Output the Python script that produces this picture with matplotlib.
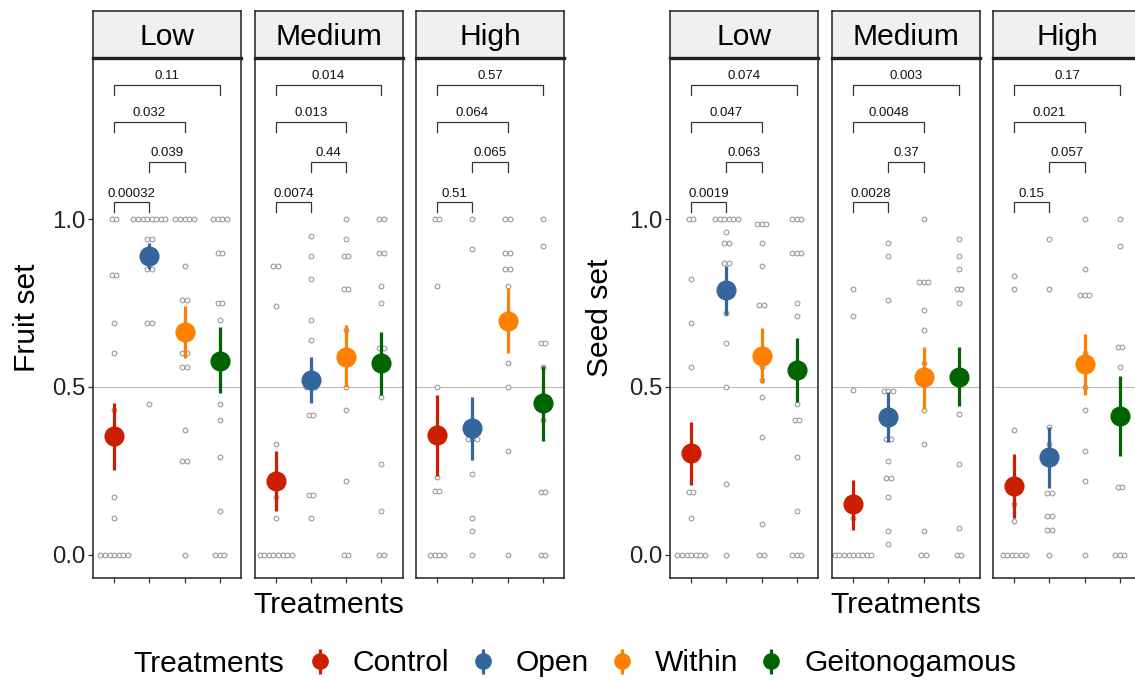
import numpy as np
import matplotlib
matplotlib.use('Agg')
import matplotlib.pyplot as plt
from matplotlib.lines import Line2D

plt.rcParams['font.family'] = ['Liberation Sans', 'DejaVu Sans']

W, H = 1135, 681

levels = ['Low', 'Medium', 'High']
treatments = ['Control', 'Open', 'Within', 'Geitonogamous']
trt_colors = ['#CC1E00', '#34659B', '#FF8000', '#006400']

# raw observations: [Control, Open, Within, Geitonogamous]
fruit_raw_low = [
    [1, 1, 0.833, 0.833, 0.69, 0.60, 0.43, 0.17, 0.11, 0, 0, 0, 0, 0, 0, 0],
    [1, 1, 1, 1, 1, 1, 1, 1, 0.94, 0.94, 0.85, 0.85, 0.69, 0.69, 0.45],
    [1, 1, 1, 1, 1, 0.86, 0.76, 0.76, 0.60, 0.60, 0.56, 0.56, 0.37, 0.28, 0.28, 0],
    [1, 1, 1, 1, 0.90, 0.90, 0.75, 0.75, 0.70, 0.45, 0.40, 0.29, 0.13, 0, 0, 0]]
fruit_raw_med = [
    [0.86, 0.86, 0.74, 0.33, 0.17, 0.11, 0, 0, 0, 0, 0, 0, 0, 0],
    [0.95, 0.89, 0.82, 0.70, 0.64, 0.5, 0.5, 0.5, 0.415, 0.415, 0.176, 0.176, 0.11],
    [1, 0.94, 0.89, 0.89, 0.79, 0.79, 0.67, 0.5, 0.43, 0.22, 0, 0],
    [1, 1, 0.90, 0.90, 0.80, 0.75, 0.615, 0.615, 0.47, 0.27, 0.13, 0, 0]]
fruit_raw_high = [
    [1, 1, 0.80, 0.5, 0.23, 0.19, 0.19, 0, 0, 0, 0],
    [1, 0.91, 0.344, 0.344, 0.344, 0.24, 0.11, 0.07, 0],
    [1, 1, 0.90, 0.90, 0.85, 0.85, 0.80, 0.57, 0.5, 0.31, 0],
    [1, 0.92, 0.63, 0.63, 0.56, 0.40, 0.186, 0.186, 0, 0]]

seed_raw_low = [
    [1, 1, 0.82, 0.69, 0.56, 0.186, 0.186, 0.11, 0, 0, 0, 0, 0, 0, 0],
    [1, 1, 1, 1, 1, 1, 0.96, 0.93, 0.93, 0.87, 0.87, 0.72, 0.63, 0.5, 0.21, 0],
    [0.985, 0.985, 0.985, 0.93, 0.86, 0.745, 0.745, 0.56, 0.52, 0.47, 0.35, 0.09, 0, 0],
    [1, 1, 1, 0.90, 0.90, 0.90, 0.75, 0.71, 0.45, 0.40, 0.40, 0.29, 0.13, 0, 0, 0]]
seed_raw_med = [
    [0.79, 0.71, 0.49, 0.11, 0, 0, 0, 0, 0, 0, 0, 0, 0],
    [0.93, 0.89, 0.76, 0.486, 0.486, 0.486, 0.344, 0.344, 0.28, 0.229, 0.229, 0.17, 0.07, 0.03],
    [1, 0.813, 0.813, 0.813, 0.73, 0.67, 0.57, 0.43, 0.33, 0.07, 0, 0],
    [0.94, 0.89, 0.85, 0.79, 0.79, 0.75, 0.42, 0.27, 0.08, 0, 0]]
seed_raw_high = [
    [0.83, 0.79, 0.37, 0.15, 0.10, 0, 0, 0, 0, 0, 0],
    [0.94, 0.79, 0.38, 0.33, 0.184, 0.184, 0.114, 0.114, 0.074, 0.074, 0],
    [1, 0.85, 0.774, 0.774, 0.774, 0.60, 0.5, 0.43, 0.31, 0.22, 0],
    [1, 0.92, 0.62, 0.62, 0.56, 0.2, 0.2, 0, 0, 0]]

# estimated means and 95% intervals, rows = Low, Medium, High
fruit_mean = [[0.354, 0.890, 0.664, 0.578], [0.220, 0.521, 0.590, 0.572], [0.355, 0.377, 0.696, 0.451]]
fruit_lo = [[0.253, 0.850, 0.585, 0.481], [0.129, 0.452, 0.500, 0.476], [0.233, 0.283, 0.602, 0.339]]
fruit_hi = [[0.453, 0.930, 0.740, 0.677], [0.310, 0.588, 0.684, 0.664], [0.475, 0.471, 0.793, 0.563]]

seed_mean = [[0.303, 0.789, 0.592, 0.551], [0.151, 0.410, 0.528, 0.530], [0.205, 0.290, 0.567, 0.412]]
seed_lo = [[0.208, 0.714, 0.511, 0.456], [0.074, 0.335, 0.434, 0.444], [0.109, 0.198, 0.476, 0.293]]
seed_hi = [[0.395, 0.859, 0.675, 0.645], [0.223, 0.484, 0.620, 0.620], [0.300, 0.380, 0.658, 0.531]]

# pairwise comparisons and p-values
pairs = [(1, 2), (2, 3), (1, 3), (1, 4)]
bracket_y = [1.05, 1.17, 1.29, 1.40]
fruit_p = [['0.00032', '0.039', '0.032', '0.11'],
           ['0.0074', '0.44', '0.013', '0.014'],
           ['0.51', '0.065', '0.064', '0.57']]
seed_p = [['0.0019', '0.063', '0.047', '0.074'],
          ['0.0028', '0.37', '0.0048', '0.003'],
          ['0.15', '0.057', '0.021', '0.17']]

BIG = 21.6
TICK = 17.3

fig = plt.figure(figsize=(W / 100, H / 100), dpi=100)


def px_axes(x0, x1, y0, y1):
    return fig.add_axes([x0 / W, 1 - y1 / H, (x1 - x0) / W, (y1 - y0) / H])


def dodge(vals, width=0.13):
    vals = np.asarray(vals, dtype=float)
    offs = np.zeros(len(vals))
    for v in np.unique(vals):
        idx = np.where(vals == v)[0]
        n = len(idx)
        offs[idx] = (np.arange(n) - (n - 1) / 2) * width
    return offs


def draw_group(lefts, raws, means, los, his, pvals, ylabel, ylab_x):
    for k, lev in enumerate(levels):
        x0 = lefts[k]
        x1 = x0 + 148
        ax = px_axes(x0, x1, 58, 578)
        ax.set_xlim(0.4, 4.6)
        ax.set_ylim(-0.07, 1.48)
        ax.axhline(0.5, color='#BBBBBB', lw=0.8, zorder=1)
        for i in range(4):
            v = raws[k][i]
            xs = (i + 1) + dodge(v)
            ax.plot(xs, v, 'o', ms=3.4, mfc='white', mec='#9A9A9A', mew=0.8, ls='none', zorder=2)
            ax.vlines(i + 1, los[k][i], his[k][i], color=trt_colors[i], lw=2.3, zorder=3)
            ax.plot(i + 1, means[k][i], 'o', ms=13.5, color=trt_colors[i], zorder=4)
        # significance brackets
        for (a, b), yb, p in zip(pairs, bracket_y, pvals[k]):
            ax.plot([a, a, b, b], [yb - 0.03, yb, yb, yb - 0.03], color='#333333', lw=0.9,
                    solid_joinstyle='miter')
            ax.text((a + b) / 2, yb + 0.017, p, ha='center', va='baseline', fontsize=9.5,
                    color='#111111')
        ax.set_xticks([1, 2, 3, 4])
        ax.set_xticklabels([])
        ax.tick_params(axis='x', direction='out', length=3.6, width=0.9, color='#333333')
        ax.set_yticks([0, 0.5, 1.0])
        if k == 0:
            ax.set_yticklabels(['0.0', '0.5', '1.0'], fontsize=TICK, color='#222222')
            ax.tick_params(axis='y', direction='out', length=3.6, width=0.9, color='#333333', pad=2)
        else:
            ax.tick_params(axis='y', left=False, labelleft=False)
        for s in ax.spines.values():
            s.set_linewidth(1.1)
            s.set_color('#222222')

        strip = px_axes(x0, x1, 11, 58)
        strip.set_facecolor('#F0F0F0')
        strip.set_xticks([])
        strip.set_yticks([])
        for s in strip.spines.values():
            s.set_linewidth(1.1)
            s.set_color('#222222')
        strip.spines['bottom'].set_linewidth(2.4)
        strip.text(0.5, 0.45, lev, ha='center', va='center', fontsize=BIG, transform=strip.transAxes)

    fig.text(ylab_x / W, 1 - 318 / H, ylabel, rotation=90, ha='center', va='center', fontsize=BIG)
    cx = (lefts[0] + lefts[-1] + 148) / 2
    fig.text(cx / W, 1 - 613 / H, 'Treatments', ha='center', va='baseline', fontsize=BIG)


draw_group([93, 254.5, 416], [fruit_raw_low, fruit_raw_med, fruit_raw_high],
           fruit_mean, fruit_lo, fruit_hi, fruit_p, 'Fruit set', 27)
draw_group([670, 832, 993], [seed_raw_low, seed_raw_med, seed_raw_high],
           seed_mean, seed_lo, seed_hi, seed_p, 'Seed set', 600)

# legend
handles = []
for c in trt_colors:
    bar = Line2D([], [], marker='|', markersize=18, mew=2.3, color=c, ls='none')
    dot = Line2D([], [], marker='o', markersize=11, color=c, ls='none')
    handles.append((bar, dot))
fig.text(133 / W, 1 - 672 / H, 'Treatments', ha='left', va='baseline', fontsize=BIG)
fig.legend(handles, treatments, ncol=4, loc='center left', bbox_to_anchor=(305 / W, 1 - 663 / H),
           frameon=False, fontsize=BIG, handlelength=1.0, handletextpad=0.6, columnspacing=0.6,
           borderpad=0, borderaxespad=0)

fig.savefig('out.png', dpi=100)
